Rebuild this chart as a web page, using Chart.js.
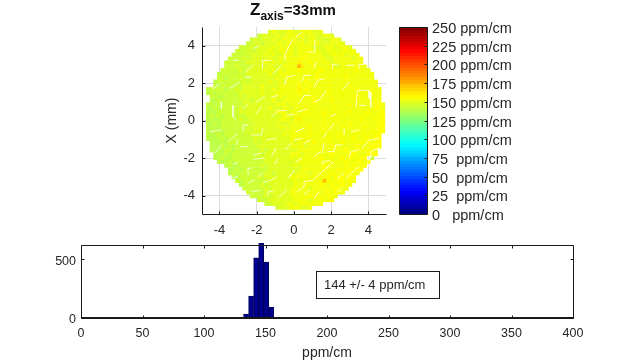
<!DOCTYPE html>
<html>
<head>
<meta charset="utf-8">
<script src="https://cdn.jsdelivr.net/npm/chart.js@4"></script>
<style>
    html, body { margin: 0; background: #fff; }
    #wrap { position: relative; width: 633px; height: 362px; overflow: hidden; }
    canvas { position: absolute; left: 0; top: 0; }
    #title { position: absolute; left: 250px; top: 0; font: bold 15px "Liberation Sans"; color: #111; white-space: nowrap; }
    #title .z { font-size: 17px; }
    #title sub { font-size: 12px; vertical-align: -5px; line-height: 0; }
</style>
</head>
<body>
<div id="wrap">
    <canvas id="mapChart" width="633" height="362"></canvas>
    <canvas id="barChart" width="633" height="362"></canvas>
    <canvas id="histChart" width="633" height="362"></canvas>
    <div id="title"><span class="z">Z</span><sub>axis</sub>=33mm</div>
</div>
<script>
// --- DATA ---
// map cells, top row to bottom row; each letter is a level from mapLevels
const mapLevels = { a: 136, b: 140, c: 144, d: 149, e: 153, f: 156, g: 160, h: 172 };
const mapStepX = 0.196;
const mapStepY = 0.204;
const mapRows = [
    "dedddeeddeeedde",
    "cddddeddeeeeedeeddeed",
    "cdcdddeddeeeededeeddddeed",
    "ccddcdddeedeeeeedeeedddeeed",
    "cccdcddddedeeeedeeeedddeeedeeed",
    "cccdccdddeddeeeedeeefeeddeeedeeee",
    "cccccddddededdeeedeefeeeeddeeeedeee",
    "ccccdcdddddeddeeeeeefeeeeeeddeeeeedee",
    "ccccccdddddedededeeegeefeeeeedeeeeeeee",
    "cccdcccdddddedddeeeehgeefeeeeeddeeeeeee",
    "cccccdcdddddedededeeefeeeeefeeeeeeeeefeee",
    "bcccccccddddddeddeeeeeeeeeefeeeeeeeeeeeeeee",
    "ccbcccdccdddddddedeeeeeeeeefeeeeeeefeeeeeee",
    "bcccccccdcdddddeddedeeeeefeeeeeeeeeeeeeeeeeee",
    "cbccccccdddddeddddeeeeefeefeeeefeeeeefeeeeeee",
    "bccccbccdcdddddeddedeeeeegefeeeeeeeeeeeeefeeeeee",
    "bcbccccccddddddedddeeeeeefeeeeeeefeeeeeeeeeeefee",
    "ccbbccccdcdddddddededeeeeeeefeeeeeeeeeeefeeeeee",
    "bbcccccccddcdddddeddeeeeeeeefeeeefeeeeeeeeeeefe",
    "bcbcbcccccdddddddddeeedeeeeeefeeeeeeeeefeeeeeeefe",
    "bbcbcccccdcddddddedddeedeeegeeeeeeefeeeeeeeeeeffe",
    "bbbccccccddddddddddeeedeeeefeeeefeeeeeefeeeefeeef",
    "bcbcbccccccddddddddddeedeeeeeeeefeeeeeeeeeefeeeff",
    "bbbbcccccdccddddddddeeedegeeeeeeeeefeeeeeefeeefef",
    "bbcbcccccccdcddddddedddeeeeeeeeefeeeeeefeeeeeeeff",
    "bbbbccccccccddddddddeedeeeeefeeeeeeeefeeeeefeeeff",
    "bbcbbccccccdcdddddddddeeeeeeeeeefeeeeeeeefeeefeff",
    "bbbcbcccccccddcddddddedeeeeefeeeeeeefeeeeeefeeff",
    "bbbbcbcccccccddddddddddeeeeeeeeeefeeeeeefeeefeff",
    "bbbbbcccccccdcddddddddedeeeefeeeeeeefeeeefefeff",
    "bbbcbcbccccccdddddddddeeeedeeeeeefeeeeeefeeefff",
    "bbbbccbcccccccdcddddddddeeeeeefeeeeeefeefeeffe",
    "bbbcbcccccccdcdddddddeeedeeeeeeefeeeeffeeefff",
    "bbcbbccccccccddddddddedeeeeeefeeeeefefeeff c",
    "bbbcbccccccccdddddddddeeeeeeeefeeeefeeffef",
    "bcbbccccccdcdddddddedeeeeeefeeeeefefeef",
    "bbcbcccccccdddddddddeeeeeefeeefeefeff",
    "bcbcccccccddcddddddeeedeeeeefeeeffee",
    "bbcccccdcdddddddeeeeeeefeefefffeff",
    "cbcccccccdddddddedeeeeeehfeeffefe",
    "bcccccdcdddddddeeeeeeefeefeefee",
    "ccccccdcdddddeeeeedeeefeeffee",
    "cccccdddddddeeeeeeefeefefee",
    "ccccdcdddddeeeeefeeeefee",
    "cccdddddddeeeedeefeef",
    "ccddddeedeeeeeee",
    "cdddeeedde"
];
// white seams in the map, in mm
const mapCracks = [
    [[-3.27,3.22],[-3.0,3.22]], [[-1.69,2.77],[-1.69,3.22],[-1.21,3.22]], [[-2.64,2.6],[-2.19,2.95]],
    [[-0.49,3.22],[-0.49,3.49],[-0.19,4.11],[-0.04,4.37]], [[-1.12,2.5],[-0.67,2.95]],
    [[-0.49,1.89],[-0.4,2.33],[0.05,2.42]], [[-3.45,1.71],[-2.91,2.06]], [[-2.64,2.33],[-2.28,2.33]],
    [[-2.02,1],[-1.56,1.3]], [[-2.73,0.64],[-2.46,0.91]], [[-3.27,0.82],[-3.27,0.2],[-3.09,0.05]],
    [[-3.9,1],[-3.9,0.64]], [[-1.21,1.26],[-0.85,1.35]], [[-1.21,0.2],[-0.85,0.55],[-0.4,0.55]],
    [[-0.4,0.29],[0.05,0.34]], [[-4.34,1.71],[-3.98,1.97]], [[-2.19,3.84],[-1.83,4.02]], [[-2.02,0.37],[-1.75,0.73]],
    [[0.1,4.46],[0.46,4.73]], [[0.73,3.66],[1.12,3.66],[1.12,4.29]], [[1.09,2.77],[1.18,3.13]],
    [[2.07,2.77],[2.07,3.01],[2.34,3.01]], [[2.79,2.95],[3.24,2.95]], [[3.5,2.77],[3.5,3.01],[3.95,3.01]],
    [[0.4,2.06],[0.55,2.42],[0.91,2.42]], [[1.09,1.8],[1.26,2.15],[1.62,2.24]], [[2.61,1.62],[2.97,2.06]],
    [[3.33,0.73],[3.42,1.62],[4.04,1.62],[4.04,1.17]], [[0.28,0.91],[0.55,1.35],[0.91,1.35]],
    [[1.09,1],[1.45,1.17],[1.72,1.62]], [[0.19,0.46],[0.73,0.64]], [[1.98,0.23],[2.25,0.34]],
    [[3.5,0.82],[3.87,0.82]], [[4.13,1.53],[4.13,0.73]],
    [[-4.52,-0.59],[-3.9,-0.5]], [[-3.54,-1.12],[-3,-0.67]], [[-2.73,-0.59],[-2.73,-0.23],[-2.46,-0.23]],
    [[-2.28,-0.76],[-1.75,-0.76],[-1.66,-0.41]], [[-3.09,-1.3],[-3,-0.99]], [[-2.91,-1.39],[-2.46,-1.39]],
    [[-1.48,-1.03],[-0.94,-0.94]], [[-4.25,-1.74],[-3.9,-1.3]], [[-2.19,-1.83],[-1.75,-1.74]],
    [[-2.19,-2.06],[-1.56,-2]], [[-1.21,-1.92],[-0.94,-1.47]], [[-0.49,-1.56],[-0.13,-1.2]],
    [[-3.27,-2.36],[-3,-2.19]], [[-2.46,-2.9],[-2.46,-2.54],[-2.28,-2.54]], [[-1.03,-2.36],[-0.85,-2]],
    [[-1.92,-2.99],[-1.66,-2.8]], [[-1.66,-3.31],[-1.21,-3.16],[-0.94,-2.99]], [[-3.45,-3.25],[-3.45,-3.07],[-3,-2.99]],
    [[-2.46,-3.34],[-2.1,-3.16]], [[-2.28,-3.79],[-1.83,-3.73]], [[-1.39,-4.02],[-1.39,-3.79],[-1.12,-3.79]],
    [[-0.85,-4.14],[-0.4,-3.7]], [[-0.31,-3.07],[0.05,-2.63]],
    [[0.1,-0.59],[0.55,-0.41]], [[0.01,-1.03],[0.46,-0.94]], [[0.55,-1.2],[0.91,-1.03]], [[1.53,-0.94],[1.8,-0.59]],
    [[2.16,-0.14],[1.89,-0.5]], [[2.7,-0.76],[2.7,-0.41]], [[3.06,-0.59],[3.5,-0.5]], [[1.53,-1.74],[1.62,-1.2]],
    [[1.8,-1.65],[2.16,-1.65],[2.25,-1.3],[2.61,-1.3]], [[2.97,-2],[3.06,-1.65],[3.5,-1.56]],
    [[3.68,-1.47],[4.04,-1.03],[4.58,-0.94]], [[4.13,-2],[4.13,-1.65],[4.58,-1.47]], [[0.1,-2.19],[0.46,-2]],
    [[1.09,-1.92],[1.45,-1.65]], [[0.19,-3.79],[0.55,-3.52],[0.55,-3.25],[0.99,-3.2],[1.62,-2.63],[2.16,-2.19]],
    [[1.53,-2.36],[1.53,-2.19],[1.98,-2.1]], [[2.34,-3.07],[2.7,-2.8]], [[2.79,-3.07],[3.5,-2.45]],
    [[2.34,-3.79],[2.61,-3.61]], [[0.55,-3.96],[0.82,-3.7]], [[1.09,-4.14],[1.36,-3.79]], [[3.95,-2.19],[4.22,-1.83]]
];
const mapTicks = [-4, -2, 0, 2, 4];

const barTicks = [0, 25, 50, 75, 100, 125, 150, 175, 200, 225, 250];
const barLabels = ["0   ppm/cm", "25  ppm/cm", "50  ppm/cm", "75  ppm/cm", "100 ppm/cm", "125 ppm/cm",
    "150 ppm/cm", "175 ppm/cm", "200 ppm/cm", "225 ppm/cm", "250 ppm/cm"];

const histBins = [134.2, 138.3, 142.4, 146.5, 150.6, 154.6];
const histCounts = [34, 186, 511, 640, 475, 93];
const histXTicks = [0, 50, 100, 150, 200, 250, 300, 350, 400];
const histYTicks = [0, 500];
const noteText = "144 +/- 4 ppm/cm";

const textColor = '#262626';
const axisColor = '#1a1a1a';

// --- COLORS ---
function jet(t) {
    const f = v => Math.round(255 * Math.min(1, Math.max(0, v)));
    return `rgb(${f(1.5 - Math.abs(4 * t - 3))},${f(1.5 - Math.abs(4 * t - 2))},${f(1.5 - Math.abs(4 * t - 1))})`;
}
const valueColor = v => jet(v / 250);

// --- MAP CELLS ---
const mapCells = [];
mapRows.forEach((row, r) => {
    const y = 4.74 - r * mapStepY;
    const start = -Math.floor(row.length / 2);
    [...row].forEach((ch, c) => {
        if (mapLevels[ch]) mapCells.push({ x: 0.09 + (start + c) * mapStepX, y: y, v: mapLevels[ch] });
    });
});

// --- MATLAB STYLE AXES ---
// frame and inward ticks, all placed from the chart's own scales
const axesFrame = {
    id: 'axesFrame',
    afterDatasetsDraw(chart, args, opts) {
        const { ctx, chartArea: a, scales } = chart;
        const len = 3;
        ctx.save();
        ctx.strokeStyle = axisColor;
        ctx.lineWidth = 1;
        const line = (x1, y1, x2, y2) => {
            ctx.beginPath();
            ctx.moveTo(Math.round(x1) + 0.5, Math.round(y1) + 0.5);
            ctx.lineTo(Math.round(x2) + 0.5, Math.round(y2) + 0.5);
            ctx.stroke();
        };
        line(a.left, a.top, a.left, a.bottom);
        line(a.left, a.bottom, a.right, a.bottom);
        if (opts.box) {
            line(a.left, a.top, a.right, a.top);
            line(a.right, a.top, a.right, a.bottom);
        }
        if (scales.y) scales.y.ticks.forEach(t => {
            const py = scales.y.getPixelForValue(t.value);
            if (opts.leftTicks !== false) line(a.left, py, a.left + len, py);
            if (opts.box) line(a.right, py, a.right - len, py);
        });
        if (scales.x && opts.xTicks !== false) scales.x.ticks.forEach(t => {
            const px = scales.x.getPixelForValue(t.value);
            line(px, a.bottom, px, a.bottom - len);
            if (opts.box) line(px, a.top, px, a.top + len);
        });
        if (opts.thickBase) {
            ctx.lineWidth = 2;
            ctx.beginPath();
            ctx.moveTo(a.left, a.bottom);
            ctx.lineTo(a.right, a.bottom);
            ctx.stroke();
        }
        ctx.restore();
    }
};

// text box of the histogram, anchored in data units
const noteBox = {
    id: 'noteBox',
    afterDraw(chart, args, opts) {
        const { ctx, scales: { x, y } } = chart;
        const left = x.getPixelForValue(opts.x0), right = x.getPixelForValue(opts.x1);
        const top = y.getPixelForValue(opts.y1), bottom = y.getPixelForValue(opts.y0);
        ctx.save();
        ctx.fillStyle = '#fff';
        ctx.strokeStyle = axisColor;
        ctx.lineWidth = 1;
        ctx.fillRect(left, top, right - left, bottom - top);
        ctx.strokeRect(Math.round(left) + 0.5, Math.round(top) + 0.5, Math.round(right - left), Math.round(bottom - top));
        ctx.fillStyle = textColor;
        ctx.font = '13px "Liberation Sans"';
        ctx.textBaseline = 'middle';
        ctx.fillText(opts.text, left + 7.5, (top + bottom) / 2 + 0.5);
        ctx.restore();
    }
};

Chart.defaults.font.family = '"Liberation Sans", Arial, sans-serif';
Chart.defaults.color = textColor;
Chart.defaults.animation = false;
Chart.defaults.responsive = false;
Chart.defaults.plugins.legend.display = false;
Chart.defaults.plugins.tooltip.enabled = false;

const fixedTicks = list => scale => { scale.ticks = list.map(v => ({ value: v })); };

// --- MAP ---
new Chart(document.getElementById('mapChart'), {
    type: 'scatter',
    plugins: [axesFrame],
    data: {
        datasets: [{
            order: 2,
            data: mapCells,
            pointStyle: 'rect',
            pointRadius: 2.9,
            pointBorderWidth: 0,
            pointBackgroundColor: mapCells.map(c => valueColor(c.v))
        }].concat(mapCracks.map(line => ({
            order: 1,
            data: line.map(p => ({ x: p[0], y: p[1] })),
            showLine: true,
            pointRadius: 0,
            borderWidth: 1,
            borderColor: 'rgba(255,255,255,0.75)'
        })))
    },
    options: {
        layout: { padding: { left: 162, top: 27, right: 247, bottom: 118 } },
        plugins: { axesFrame: {} },
        scales: {
            x: {
                type: 'linear', min: -4.94, max: 4.95,
                afterBuildTicks: fixedTicks(mapTicks),
                afterFit: s => { s.height = 30; },
                grid: { color: '#dcdcdc', drawTicks: false },
                border: { display: false },
                ticks: { padding: 9, maxRotation: 0, font: { size: 13 } }
            },
            y: {
                type: 'linear', min: -4.98, max: 5,
                afterBuildTicks: fixedTicks(mapTicks),
                afterFit: s => { s.width = 40; },
                grid: { color: '#dcdcdc', drawTicks: false },
                border: { display: false },
                ticks: { padding: 7, font: { size: 13 } },
                title: { display: true, text: 'X (mm)', padding: { top: 2, bottom: 0 }, font: { size: 14 } }
            }
        }
    }
});

// --- COLOR BAR ---
new Chart(document.getElementById('barChart'), {
    type: 'bar',
    plugins: [axesFrame],
    data: {
        labels: ['scale'],
        datasets: [{
            data: [[barTicks[0], barTicks[barTicks.length - 1]]],
            barPercentage: 1,
            categoryPercentage: 1,
            backgroundColor: ctx => {
                const area = ctx.chart.chartArea;
                if (!area || !isFinite(area.top) || !isFinite(area.bottom)) return '#000';
                const g = ctx.chart.ctx.createLinearGradient(0, area.bottom, 0, area.top);
                // 64 flat bands like the colormap of the original
                for (let i = 0; i < 64; i++) {
                    g.addColorStop(i / 64, jet((i + 0.5) / 64));
                    g.addColorStop((i + 1) / 64, jet((i + 0.5) / 64));
                }
                return g;
            }
        }]
    },
    options: {
        layout: { padding: { left: 399, top: 27, right: 0, bottom: 148 } },
        plugins: { axesFrame: { box: true, leftTicks: false, xTicks: false } },
        scales: {
            x: { display: false },
            y: {
                position: 'right', min: 0, max: 250,
                afterBuildTicks: fixedTicks(barTicks),
                afterFit: s => { s.width = 206; },
                grid: { display: false, drawTicks: false },
                border: { display: false },
                ticks: {
                    padding: 5,
                    autoSkip: false,
                    labelOffset: 2,
                    font: { size: 14.5 },
                    callback: v => barLabels[barTicks.indexOf(v)]
                }
            }
        }
    }
});

// --- HISTOGRAM ---
new Chart(document.getElementById('histChart'), {
    type: 'bar',
    plugins: [axesFrame, noteBox],
    data: {
        datasets: [{
            data: histBins.map((b, i) => ({ x: b, y: histCounts[i] })),
            barThickness: 5,
            backgroundColor: '#00008f',
            borderColor: '#00005a',
            borderWidth: 1,
            clip: 2
        }]
    },
    options: {
        layout: { padding: { left: 41, top: 245, right: 60, bottom: 0 } },
        plugins: {
            axesFrame: { box: true, thickBase: true },
            noteBox: { x0: 191.4, x1: 291, y0: 164, y1: 396, text: noteText }
        },
        scales: {
            x: {
                type: 'linear', min: 0, max: 400,
                offset: false,
                afterBuildTicks: fixedTicks(histXTicks),
                afterFit: s => { s.height = 44; },
                grid: { display: false, drawTicks: false },
                border: { display: false },
                ticks: { padding: 8, maxRotation: 0, font: { size: 12.5 } },
                title: { display: true, text: 'ppm/cm', padding: { top: 0, bottom: 0 }, font: { size: 14 } }
            },
            y: {
                min: 0, max: 621,
                afterBuildTicks: fixedTicks(histYTicks),
                afterFit: s => { s.width = 40; },
                grid: { display: false, drawTicks: false },
                border: { display: false },
                ticks: { padding: 5, labelOffset: 2, font: { size: 12.5 } }
            }
        }
    }
});
</script>
</body>
</html>
